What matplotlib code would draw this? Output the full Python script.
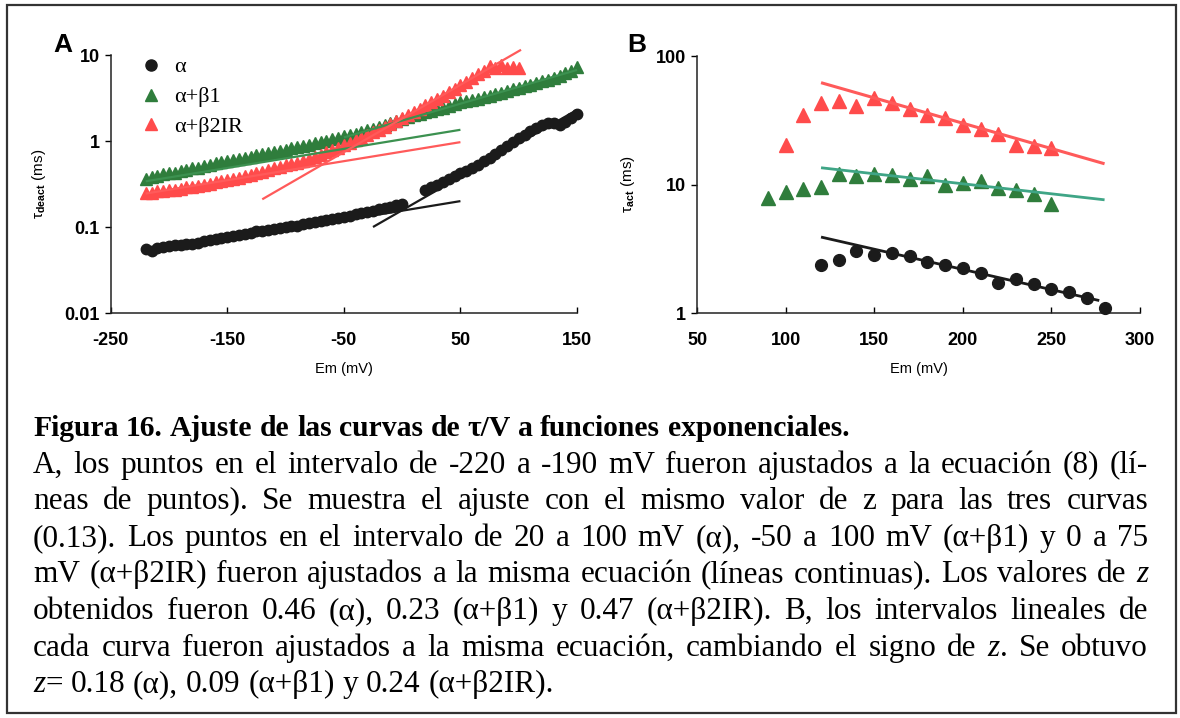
import re

import matplotlib as mpl

mpl.use("Agg")
import matplotlib.pyplot as plt
import numpy as np
from matplotlib.lines import Line2D
from matplotlib.patches import Rectangle
from matplotlib.ticker import FixedLocator, NullLocator, FormatStrFormatter

plt.rcParams["font.family"] = ["Liberation Sans", "DejaVu Sans"]
plt.rcParams["font.weight"] = "bold"
plt.rcParams["axes.unicode_minus"] = False
plt.rcParams["mathtext.fontset"] = "custom"
plt.rcParams["mathtext.rm"] = "Liberation Sans:bold"
plt.rcParams["mathtext.default"] = "rm"

# ---- panel A: tau deact vs Em (5 mV steps) ----
a_alpha_x1 = np.arange(-220, 1, 5)
a_alpha_y1 = [0.055, 0.053, 0.057, 0.059, 0.060, 0.061, 0.062, 0.063, 0.064, 0.066,
              0.068, 0.070, 0.072, 0.075, 0.077, 0.079, 0.081, 0.084, 0.086, 0.089,
              0.090, 0.093, 0.095, 0.098, 0.100, 0.102, 0.104, 0.107, 0.110, 0.113,
              0.116, 0.120, 0.124, 0.128, 0.132, 0.136, 0.140, 0.145, 0.150, 0.155,
              0.160, 0.166, 0.172, 0.178, 0.185]
a_alpha_x2 = np.arange(20, 151, 5)
a_alpha_y2 = [0.27, 0.29, 0.31, 0.33, 0.36, 0.39, 0.42, 0.45, 0.49, 0.53,
              0.58, 0.64, 0.71, 0.79, 0.88, 0.98, 1.08, 1.18, 1.30, 1.42,
              1.52, 1.60, 1.62, 1.52, 1.65, 1.85, 2.05]
a_b1_x = np.arange(-220, 151, 5)
a_b1_y = [0.36, 0.38, 0.39, 0.41, 0.42, 0.43, 0.45, 0.46, 0.48, 0.49,
          0.51, 0.53, 0.55, 0.57, 0.59, 0.60, 0.62, 0.64, 0.66, 0.68,
          0.70, 0.72, 0.74, 0.77, 0.79, 0.82, 0.85, 0.88, 0.91, 0.94,
          0.97, 1.01, 1.05, 1.09, 1.13, 1.17, 1.22, 1.27, 1.33, 1.39,
          1.46, 1.53, 1.61, 1.70, 1.80, 1.88, 1.98, 2.07, 2.16, 2.25,
          2.35, 2.45, 2.57, 2.69, 2.82, 2.92, 3.02, 3.12, 3.25, 3.38,
          3.52, 3.66, 3.82, 3.98, 4.15, 4.32, 4.50, 4.70, 4.92, 5.15,
          5.40, 5.70, 6.10, 6.60, 7.30]
a_b2_x = np.arange(-220, 101, 5)
a_b2_y = [0.25, 0.25, 0.26, 0.26, 0.27, 0.27, 0.28, 0.29, 0.29, 0.30,
          0.31, 0.32, 0.33, 0.34, 0.35, 0.36, 0.37, 0.39, 0.40, 0.42,
          0.44, 0.46, 0.48, 0.50, 0.52, 0.54, 0.56, 0.59, 0.62, 0.65,
          0.69, 0.74, 0.79, 0.84, 0.89, 0.95, 1.02, 1.09, 1.17, 1.26,
          1.36, 1.46, 1.57, 1.70, 1.85, 2.00, 2.18, 2.38, 2.60, 2.85,
          3.10, 3.38, 3.70, 4.05, 4.45, 4.90, 5.40, 5.95, 6.60, 7.40,
          7.00, 7.60, 7.10, 7.30, 7.00]

# fitted exponentials, end points (Em0, Em1, tau0, tau1)
a_fits = {
    "alpha_low": (-220, 50, 0.050, 0.20),
    "alpha_high": (-25, 150, 0.10, 2.3),
    "b1_low": (-220, 50, 0.34, 1.35),
    "b1_high": (-50, 150, 1.10, 6.7),
    "b2_low": (-220, 50, 0.245, 0.97),
    "b2_high": (-120, 102, 0.21, 11.5),
}

# ---- panel B: tau act vs Em ----
b_alpha_x = [120, 130, 140, 150, 160, 170, 180, 190, 200, 210, 220, 230, 240, 250, 260, 270, 280]
b_alpha_y = [2.38, 2.6, 3.04, 2.85, 2.95, 2.77, 2.5, 2.35, 2.24, 2.05, 1.71, 1.83, 1.67, 1.53, 1.46, 1.32, 1.10]
b_b1_x = [90, 100, 110, 120, 130, 140, 150, 160, 170, 180, 190, 200, 210, 220, 230, 240, 250]
b_b1_y = [7.8, 8.8, 9.3, 9.6, 12.0, 11.6, 12.0, 11.8, 11.0, 11.6, 9.9, 10.3, 10.7, 9.4, 9.0, 8.4, 7.1]
b_b2_x = [100, 110, 120, 130, 140, 150, 160, 170, 180, 190, 200, 210, 220, 230, 240, 250]
b_b2_y = [20.2, 34.7, 43.3, 44.9, 40.7, 46.8, 42.8, 39.0, 34.7, 32.7, 29.0, 27.0, 24.6, 20.2, 19.9, 19.3]
b_fits = {
    "alpha": (120, 277, 3.9, 1.25),
    "b1": (120, 280, 13.5, 7.6),
    "b2": (120, 280, 62.0, 14.5),
}

labels = ["α", "α+β1", "α+β2IR"]
caption_title = "Figura 16. Ajuste de las curvas de τ/V a funciones exponenciales."
caption_lines = [
    "A, los puntos en el intervalo de -220 a -190 mV fueron ajustados a la ecuación (8) (lí-",
    "neas de puntos). Se muestra el ajuste con el mismo valor de z para las tres curvas",
    "(0.13). Los puntos en el intervalo de 20 a 100 mV (α), -50 a 100 mV (α+β1) y 0 a 75",
    "mV (α+β2IR) fueron ajustados a la misma ecuación (líneas continuas). Los valores de {z}",
    "obtenidos fueron 0.46 (α), 0.23 (α+β1) y 0.47 (α+β2IR). B, los intervalos lineales de",
    "cada curva fueron ajustados a la misma ecuación, cambiando el signo de {z}. Se obtuvo",
    "{z}= 0.18 (α), 0.09 (α+β1) y 0.24 (α+β2IR).",
]

BLACK = "#1b1b1b"
GREEN = "#2f7d3c"
RED = "#ff4b4b"
GREEN_LINE = "#3c9150"
GREEN_LINE_B = "#3fa586"
RED_LINE = "#ff5a5a"

W, H = 1180, 718
fig = plt.figure(figsize=(W / 100, H / 100), dpi=100)


def px_rect(x0, y0, x1, y1):
    return [x0 / W, 1 - y1 / H, (x1 - x0) / W, (y1 - y0) / H]


axA = fig.add_axes(px_rect(110.7, 55, 577, 313))
axB = fig.add_axes(px_rect(697, 56, 1140, 313))


def style_axis(ax):
    for s in ("top", "right"):
        ax.spines[s].set_visible(False)
    for s in ("left", "bottom"):
        ax.spines[s].set_linewidth(1.1)
        ax.spines[s].set_color("#222222")
    ax.set_yscale("log")
    ax.yaxis.set_minor_locator(NullLocator())
    ax.yaxis.set_major_formatter(FormatStrFormatter("%g"))
    ax.tick_params(axis="y", direction="out", length=4, width=1, labelsize=13, pad=4)
    ax.tick_params(axis="x", direction="in", length=4, width=1, labelsize=13, pad=14)


def fit_line(ax, f, color, lw=1.6):
    ax.plot([f[0], f[1]], [f[2], f[3]], color=color, lw=lw, zorder=4,
            solid_capstyle="butt", clip_on=False)


# panel A
style_axis(axA)
ms_a = 7.5
axA.plot(a_alpha_x1, a_alpha_y1, "o", color=BLACK, ms=ms_a, zorder=3, clip_on=False)
axA.plot(a_alpha_x2, a_alpha_y2, "o", color=BLACK, ms=ms_a, zorder=3, clip_on=False)
axA.plot(a_b1_x, a_b1_y, "^", color=GREEN, ms=ms_a + 1, zorder=2, clip_on=False)
axA.plot(a_b2_x, a_b2_y, "^", color=RED, ms=ms_a + 1, zorder=3, clip_on=False)
fit_line(axA, a_fits["alpha_low"], BLACK)
fit_line(axA, a_fits["alpha_high"], BLACK)
fit_line(axA, a_fits["b1_low"], GREEN_LINE)
fit_line(axA, a_fits["b1_high"], GREEN_LINE)
fit_line(axA, a_fits["b2_low"], RED_LINE)
fit_line(axA, a_fits["b2_high"], RED_LINE)
axA.set_xlim(-250, 150)
axA.set_ylim(0.01, 10)
axA.xaxis.set_major_locator(FixedLocator([-250, -150, -50, 50, 150]))
axA.yaxis.set_major_locator(FixedLocator([0.01, 0.1, 1, 10]))
axA.set_xlabel("Em (mV)", fontsize=10.5)
axA.xaxis.set_label_coords(0.5, -0.19)
axA.set_ylabel(r"τ$_{deact}$ (ms)", fontsize=11)
axA.yaxis.set_label_coords(-0.1345, 0.5)

handles = [
    Line2D([], [], ls="none", marker="o", color=BLACK, ms=8),
    Line2D([], [], ls="none", marker="^", color=GREEN, ms=9),
    Line2D([], [], ls="none", marker="^", color=RED, ms=9),
]
axA.legend(handles, labels, loc="upper left", bbox_to_anchor=(0.02, 1.07),
           frameon=False, handlelength=1.0, handletextpad=0.55, labelspacing=0.42,
           prop={"family": ["Liberation Serif", "DejaVu Serif"], "size": 16, "weight": "normal"})

# panel B
style_axis(axB)
axB.plot(b_alpha_x, b_alpha_y, "o", color=BLACK, ms=8.5, zorder=3, clip_on=False)
axB.plot(b_b1_x, b_b1_y, "^", color=GREEN, ms=9.5, zorder=3, clip_on=False)
axB.plot(b_b2_x, b_b2_y, "^", color=RED, ms=9.5, zorder=3, clip_on=False)
fit_line(axB, b_fits["alpha"], BLACK, lw=2)
fit_line(axB, b_fits["b1"], GREEN_LINE_B, lw=2)
fit_line(axB, b_fits["b2"], RED_LINE, lw=2.2)
axB.set_xlim(50, 300)
axB.set_ylim(1, 100)
axB.xaxis.set_major_locator(FixedLocator([50, 100, 150, 200, 250, 300]))
axB.yaxis.set_major_locator(FixedLocator([1, 10, 100]))
axB.set_xlabel("Em (mV)", fontsize=10.5)
axB.xaxis.set_label_coords(0.5, -0.19)
axB.set_ylabel(r"τ$_{act}$ (ms)", fontsize=11)
axB.yaxis.set_label_coords(-0.135, 0.5)

fig.text(63 / W, 1 - 45 / H, "A", fontsize=19, fontweight="bold", ha="center", va="center")
fig.text(637 / W, 1 - 45 / H, "B", fontsize=19, fontweight="bold", ha="center", va="center")

# frame around the whole figure
fig.add_artist(Rectangle((7 / W, 1 - 713 / H), 1169 / W, 708 / H, transform=fig.transFigure,
                         fill=False, lw=1.6, ec="#333333"))

# caption, justified like the printed page
serif = ["Liberation Serif", "DejaVu Serif"]
left, right = 33, 1148
base0, step = 436, 36.6
renderer = fig.canvas.get_renderer()


def segments(word):
    out = []
    for part in re.split(r"(\{[^}]*\})", word):
        if not part:
            continue
        if part.startswith("{"):
            out.append((part[1:-1], True))
        else:
            out.append((part, False))
    return out


def seg_width(text, italic, size, weight="normal"):
    t = fig.text(0, 0, text, fontsize=size, family=serif,
                 style="italic" if italic else "normal", weight=weight)
    w = t.get_window_extent(renderer).width
    t.remove()
    return w


def draw_line(line, y, justify, size, weight="normal"):
    words = [segments(w) for w in line.split(" ")]
    widths = [sum(seg_width(s, it, size, weight) for s, it in w) for w in words]
    space = seg_width("a a", False, size, weight) - seg_width("aa", False, size, weight)
    if justify and len(words) > 1:
        space = max((right - left - sum(widths)) / (len(words) - 1), 0.35 * space)
    x = left
    for w, wd in zip(words, widths):
        xx = x
        for s, it in w:
            fig.text(xx / W, 1 - y / H, s, fontsize=size, family=serif,
                     style="italic" if it else "normal", weight=weight,
                     ha="left", va="baseline")
            xx += seg_width(s, it, size, weight)
        x += wd + space


draw_line(caption_title, base0, False, 21.3, weight="bold")
for i, line in enumerate(caption_lines):
    draw_line(line, base0 + step * (i + 1), i < len(caption_lines) - 1, 22.5)

fig.savefig("out.png", dpi=100)
